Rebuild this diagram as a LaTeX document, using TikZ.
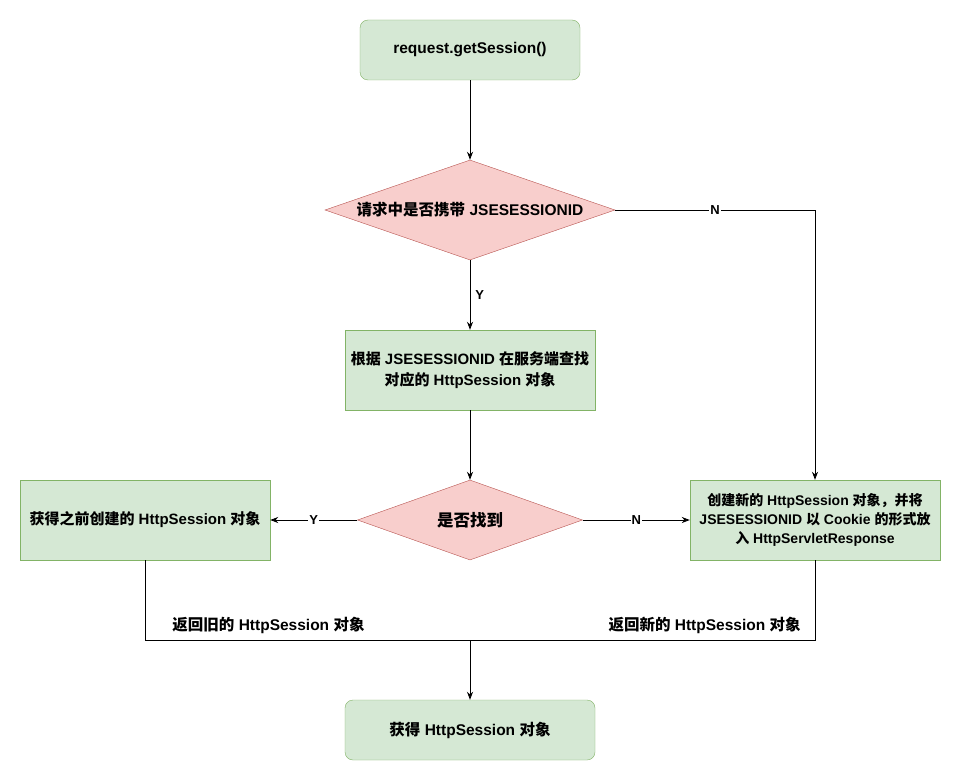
\documentclass[tikz,border=0pt]{standalone}
\usepackage{fontspec}
\setmainfont{Liberation Sans}
\newfontfamily\cjk{Noto Sans CJK SC}
\newcommand{\zh}[1]{{\cjk\bfseries #1}}
\usetikzlibrary{shapes.geometric,arrows.meta}
\definecolor{okfill}{HTML}{D5E8D4}
\definecolor{okline}{HTML}{82B366}
\definecolor{nofill}{HTML}{F8CECC}
\definecolor{noline}{HTML}{B85450}
\tikzset{
  box/.style={draw=okline, fill=okfill, minimum width=250pt, minimum height=80pt,
    inner sep=1pt, align=center, font=\bfseries\fontsize{15}{21}\selectfont},
  rbox/.style={box, rounded corners=8pt, minimum height=60pt, font=\bfseries\fontsize{15.5}{18}\selectfont},
  ask/.style={diamond, draw=noline, fill=nofill, inner sep=0pt,
    font=\bfseries\fontsize{15.5}{18}\selectfont},
  link/.style={line width=0.8pt, -{Stealth[length=8pt,width=6pt]}},
  line/.style={line width=0.8pt},
  tag/.style={fill=white, inner sep=1pt, font=\bfseries\fontsize{13}{15}\selectfont},
  note/.style={inner sep=2pt, font=\bfseries\fontsize{15.5}{18}\selectfont}
}
\begin{document}
\begin{tikzpicture}[x=1pt, y=-1pt]
  \useasboundingbox[fill=white] (0,0) rectangle (961,781);
  % nodes
  \node[rbox, minimum width=220pt] (start) at (470,50) {request.getSession()};
  \node[ask, minimum width=290pt, minimum height=100pt, shape aspect=2.9] (hasid) at (470,210)
    {\zh{请求中是否携带} JSESESSIONID};
  \node[box] (find) at (470,370)
    {\zh{根据} JSESESSIONID \zh{在服务端查找}\\\zh{对应的} HttpSession \zh{对象}};
  \node[ask, minimum width=225pt, minimum height=80pt, shape aspect=2.8,
    font=\bfseries\fontsize{16.5}{19}\selectfont] (found) at (470,520) {\zh{是否找到}};
  \node[box] (old) at (145,520)
    {\zh{获得之前创建的} HttpSession \zh{对象}};
  \node[box, font=\bfseries\fontsize{14}{19}\selectfont] (new) at (815,520)
    {\zh{创建新的} HttpSession \zh{对象，并将}\\JSESESSIONID \zh{以} Cookie \zh{的形式放}\\\zh{入} HttpServletResponse};
  \node[rbox] (done) at (470,730) {\zh{获得} HttpSession \zh{对象}};
  \coordinate (join) at (470,640);
  % connectors
  \draw[link] (start) -- (hasid);
  \draw[link] (hasid) -- node[tag, right=4pt] {Y} (find);
  \draw[link] (hasid.east) -- node[tag] {N} (hasid.east -| new) -- (new.north);
  \draw[link] (find) -- (found);
  \draw[link] (found) -- node[tag] {Y} (old);
  \draw[link] (found) -- node[tag] {N} (new);
  \draw[line] (old.south) |- node[note, pos=0.69, above=4pt] {\zh{返回旧的} HttpSession \zh{对象}} (join);
  \draw[line] (new.south) |- node[note, pos=0.66, above=4pt] {\zh{返回新的} HttpSession \zh{对象}} (join);
  \draw[link] (join) -- (done);
\end{tikzpicture}
\end{document}
